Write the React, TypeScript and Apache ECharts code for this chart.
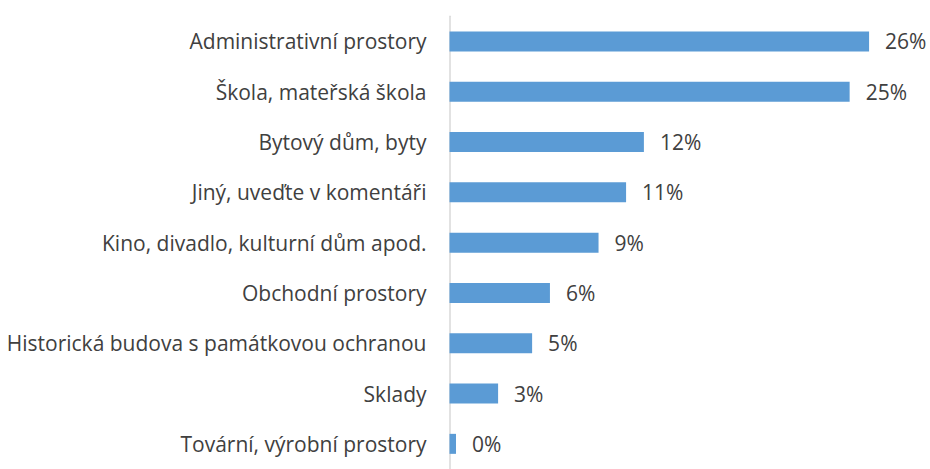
import React, { useEffect, useRef } from "react";
import * as echarts from "echarts";

const categories = [
  "Administrativní prostory",
  "Škola, mateřská škola",
  "Bytový dům, byty",
  "Jiný, uveďte v komentáři",
  "Kino, divadlo, kulturní dům apod.",
  "Obchodní prostory",
  "Historická budova s památkovou ochranou",
  "Sklady",
  "Tovární, výrobní prostory",
];

const values = [25.9, 24.7, 12.0, 10.9, 9.2, 6.2, 5.1, 3.0, 0.4];

export default function App() {
  const ref = useRef<HTMLDivElement>(null);
  useEffect(() => {
    if (!ref.current) return;
    const chart = echarts.init(ref.current, null, { renderer: "svg" });
    const font = "'Open Sans', 'Noto Sans', sans-serif";
    chart.setOption({
      animation: false,
      backgroundColor: "#ffffff",
      grid: { left: 449.5, top: 16.3, bottom: -10.4, width: 28 * 16.2 },
      xAxis: {
        type: "value",
        min: 0,
        max: 28,
        show: false,
        splitLine: { show: false },
      },
      yAxis: {
        type: "category",
        data: categories,
        inverse: true,
        axisLine: { show: true, lineStyle: { color: "#d9d9d9", width: 1.5 } },
        axisTick: { show: false },
        axisLabel: {
          margin: 23,
          color: "#404040",
          fontSize: 21,
          fontFamily: font,
        },
      },
      series: [
        {
          type: "bar",
          data: values,
          barWidth: 20,
          itemStyle: { color: "#5b9bd5" },
          label: {
            show: true,
            position: "right",
            distance: 16,
            color: "#404040",
            fontSize: 21,
            fontFamily: font,
            formatter: (p: any) => Math.round(p.value) + "%",
          },
        },
      ],
    });
    return () => chart.dispose();
  }, []);
  return (
    <div
      ref={ref}
      style={{ position: "fixed", left: 0, top: 0, width: 930, height: 469 }}
    />
  );
}
